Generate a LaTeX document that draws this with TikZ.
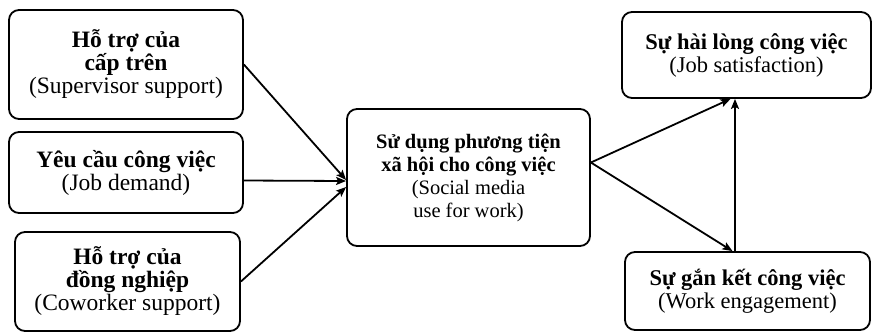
\documentclass[tikz,border=0pt]{standalone}
\usepackage{fontspec}
\setmainfont{Liberation Serif}
\usepackage{tikz}
\usetikzlibrary{arrows.meta, positioning}

\begin{document}
\begin{tikzpicture}[
  x=1pt, y=-1pt,
  box/.style={rectangle, draw=black, line width=1.8pt, rounded corners=10pt, align=center, inner sep=0pt, font=\fontsize{20.5}{23}\selectfont},
  side/.style={box, font=\fontsize{23.5}{23}\selectfont},
  arrow/.style={-{Stealth[length=10pt, width=8pt, inset=2pt]}, line width=1.8pt, black}
]
  \useasboundingbox (0,0) rectangle (873,333);

  % Left column: antecedents
  \node[side, minimum width=234pt, minimum height=109pt] (sup) at (126,64.5) {\textbf{Hỗ trợ của}\\\textbf{cấp trên}\\(Supervisor support)};
  \node[side, minimum width=234pt, minimum height=81pt] (dem) at (126,172.5) {\textbf{Yêu cầu công việc}\\(Job demand)};
  \node[side, minimum width=225pt, minimum height=99pt] (cow) at (127.5,281.5) {\textbf{Hỗ trợ của}\\\textbf{đồng nghiệp}\\(Coworker support)};

  % Middle: mediator
  \node[box, minimum width=243pt, minimum height=137pt] (smu) at (468.5,177.5) {\textbf{Sử dụng phương tiện}\\\textbf{xã hội cho công việc}\\(Social media\\use for work)};

  % Right column: outcomes
  \node[side, font=\fontsize{22.5}{23}\selectfont, minimum width=249pt, minimum height=86pt] (sat) at (746.5,55) {\textbf{Sự hài lòng công việc}\\(Job satisfaction)};
  \node[side, font=\fontsize{22.5}{23}\selectfont, minimum width=245pt, minimum height=78pt] (eng) at (747.5,291) {\textbf{Sự gắn kết công việc}\\(Work engagement)};

  \draw[arrow] (sup.east) -- ([yshift=-2.5pt]smu.west);
  \draw[arrow] ([yshift=-8pt]dem.east) -- ([yshift=-3.5pt]smu.west);
  \draw[arrow] (cow.east) -- ([yshift=-9.5pt]smu.west);

  \draw[arrow] ([yshift=15pt]smu.east) -- ([xshift=-16pt]sat.south);
  \draw[arrow] ([yshift=15pt]smu.east) -- ([xshift=-15pt]eng.north);
  \draw[arrow] ([xshift=-12.5pt]eng.north) -- ([xshift=-11.5pt]sat.south);

\end{tikzpicture}
\end{document}
